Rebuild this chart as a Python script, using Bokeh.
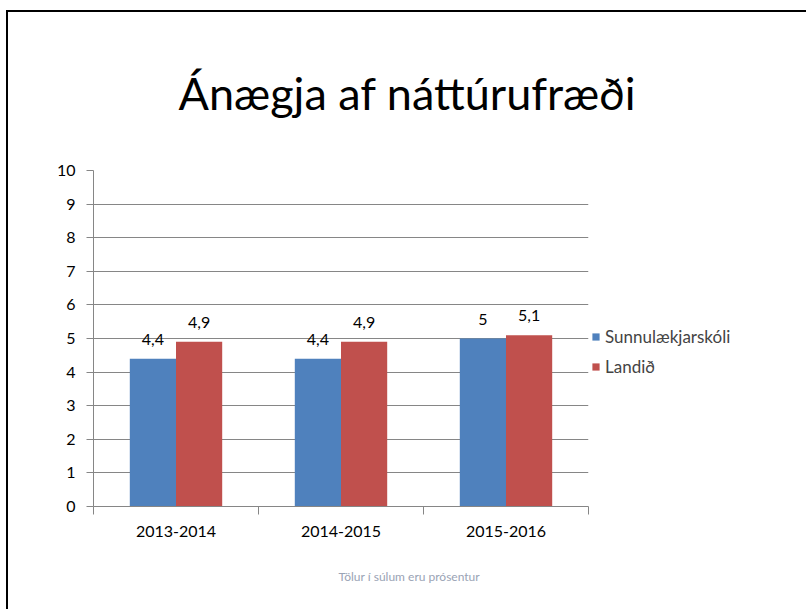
from bokeh.plotting import figure
from bokeh.models import ColumnDataSource, FixedTicker, Title, Legend, LegendItem, LabelSet
from bokeh.embed import file_html
from bokeh.resources import INLINE
from bokeh.core.properties import value

# ---- data ----
title_text = "Ánægja af náttúrufræði"
footer_text = "Tölur í súlum eru prósentur"
categories = ["2013-2014", "2014-2015", "2015-2016"]
series_names = ["Sunnulækjarskóli", "Landið"]
sunnulaekjarskoli = [4.4, 4.4, 5.0]
landid = [4.9, 4.9, 5.1]
y_ticks = [0, 1, 2, 3, 4, 5, 6, 7, 8, 9, 10]

colors = ["#4F81BD", "#C0504D"]
FONT = "Lato"

p = figure(frame_width=495, frame_height=336, output_backend="svg", toolbar_location=None,
           x_range=(0, len(categories)), y_range=(0, 10),
           min_border_left=85, min_border_right=200, min_border_top=158, min_border_bottom=85)
p.margin = (10, 0, 0, 6)
p.styles = {"border-top": "2px solid black", "border-left": "2px solid black"}
p.outline_line_color = None
p.background_fill_color = "white"
p.border_fill_color = "white"

bw = 0.28
centers = [i + 0.5 for i in range(len(categories))]
renderers = []
for k, (vals, col) in enumerate(zip([sunnulaekjarskoli, landid], colors)):
    xs = [c + (k - 0.5) * bw for c in centers]
    src = ColumnDataSource(dict(x=xs, top=vals, lab=[str(v).replace(".0", "").replace(".", ",") for v in vals]))
    r = p.vbar(x="x", top="top", width=bw, bottom=0, source=src, fill_color=col, line_color=None)
    renderers.append(r)
    ls = LabelSet(x="x", y="top", text="lab", source=src, text_align="center", text_baseline="bottom",
                  y_offset=14, text_font=value(FONT), text_font_size="16px", text_color="#000000")
    p.add_layout(ls)

# axes
p.xaxis.ticker = FixedTicker(ticks=centers, minor_ticks=list(range(len(categories) + 1)))
p.xaxis.major_label_overrides = {c: lab for c, lab in zip(centers, categories)}
p.xaxis.major_tick_out = 0
p.xaxis.major_tick_in = 0
p.xaxis.minor_tick_out = 8
p.xaxis.minor_tick_in = 0
p.xaxis.minor_tick_line_color = "#868686"
p.xaxis.axis_line_color = "#868686"
p.xaxis.major_label_standoff = 11
p.yaxis.ticker = FixedTicker(ticks=y_ticks)
p.yaxis.major_tick_out = 7
p.yaxis.major_tick_in = 0
p.yaxis.minor_tick_out = 0
p.yaxis.major_tick_line_color = "#868686"
p.yaxis.axis_line_color = "#868686"
p.yaxis.major_label_standoff = 11
for ax in (p.xaxis, p.yaxis):
    ax.major_label_text_font = FONT
    ax.major_label_text_font_size = "16px"
    ax.major_label_text_color = "#000000"
p.xgrid.grid_line_color = None
p.ygrid.ticker = FixedTicker(ticks=y_ticks)
p.ygrid.grid_line_color = "#868686"

# title & footer
p.title = Title(text=title_text, align="left", offset=85, standoff=101, text_font=FONT,
                text_font_size="45px", text_font_style="normal", text_color="#000000")
p.add_layout(Title(text=footer_text, align="left", offset=245, standoff=55, text_font=FONT,
                   text_font_size="12px", text_font_style="normal", text_color="#9AA3B5"), "below")

legend = Legend(items=[LegendItem(label=n, renderers=[r]) for n, r in zip(series_names, renderers)],
                location=(3, 129), border_line_color=None, background_fill_alpha=0,
                label_text_font=FONT, label_text_font_size="17px", glyph_width=9, glyph_height=9,
                label_standoff=5, spacing=9, padding=4, margin=0)
p.add_layout(legend, "right")

open("out.html", "w").write(file_html(p, INLINE))
